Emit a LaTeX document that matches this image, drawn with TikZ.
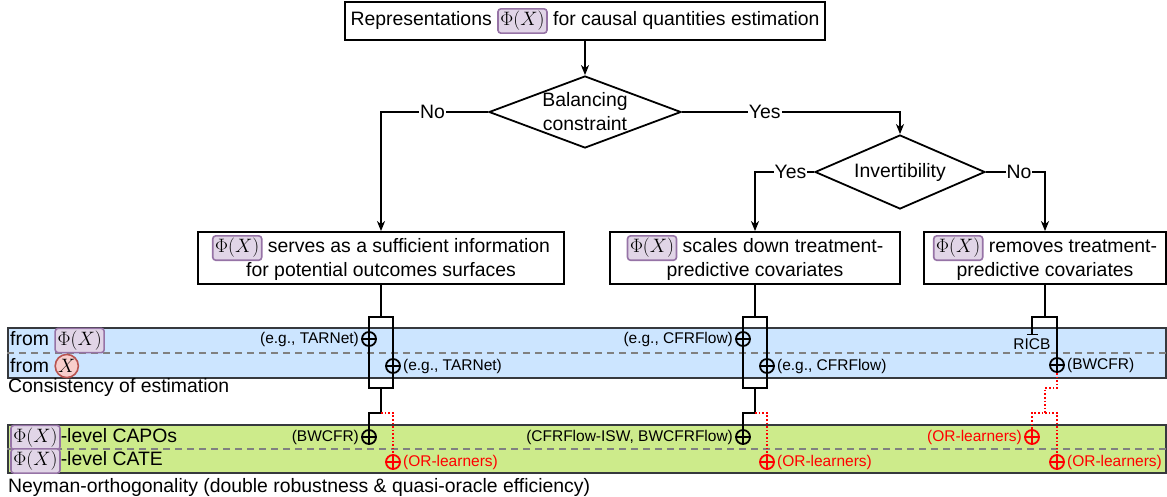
\RequirePackage{fix-cm}
\documentclass[tikz,border=0pt]{standalone}
\usepackage[no-math]{fontspec}
\setmainfont{Liberation Sans}
\usepackage{xcolor}
\usepackage{amsmath}
\usetikzlibrary{shapes.geometric,arrows.meta}

\definecolor{tagfill}{HTML}{E1D5E7}
\definecolor{tagdraw}{HTML}{9673A6}
\definecolor{xfill}{HTML}{F8CECC}
\definecolor{xdraw}{HTML}{B85450}
\definecolor{bandblue}{HTML}{CCE5FF}
\definecolor{bandgreen}{HTML}{CDEB8B}
\definecolor{bandedge}{HTML}{36393D}
\definecolor{sepgray}{HTML}{808080}

\tikzset{
  big/.style={font=\fontsize{19.4}{24}\selectfont},
  small/.style={font=\fontsize{15.5}{18}\selectfont},
  phitag/.style={draw=tagdraw,fill=tagfill,rounded corners=3pt,line width=1.6pt,inner sep=2.5pt},
  xtag/.style={circle,draw=xdraw,fill=xfill,line width=1.6pt,inner sep=0.5pt,minimum size=23pt},
  stepbox/.style={big,draw,line width=1.8pt,align=center,inner sep=0pt},
  decision/.style={big,diamond,draw,line width=1.8pt,align=center,inner sep=0pt},
  band/.style={draw=bandedge,line width=1.8pt,inner sep=0pt,minimum width=1158pt},
  splitline/.style={sepgray,dash pattern=on 7pt off 5pt,line width=1.5pt},
  arr/.style={line width=1.6pt,-{Stealth[length=10pt,width=8pt,inset=3pt]}},
  wire/.style={line width=1.6pt},
  orl/.style={red,dotted,line width=1.6pt},
  yesno/.style={big,fill=white,inner sep=1pt},
  bracket/.style={draw,line width=1.6pt,minimum width=24pt,minimum height=71pt,inner sep=0pt},
  oplus/.style={circle,draw=#1,line width=1.8pt,minimum size=14pt,inner sep=0pt,
    path picture={\draw[#1,line width=1.8pt] (path picture bounding box.north) -- (path picture bounding box.south) (path picture bounding box.west) -- (path picture bounding box.east);}},
  oplus/.default=black,
}

\newsavebox{\phibox}
\newsavebox{\xbox}

\begin{document}
\begin{tikzpicture}[x=1pt,y=-1pt]
\begin{pgfinterruptboundingbox}
\global\setbox\phibox=\hbox{\fontsize{19.4}{24}\selectfont\tikz[baseline=(phi.base),x=1pt,y=1pt]\node[phitag] (phi) {$\Phi(X)$};}
\global\setbox\xbox=\hbox{\fontsize{19.4}{24}\selectfont\tikz[baseline=(xx.base),x=1pt,y=1pt]\node[xtag] (xx) {$X$};}
\end{pgfinterruptboundingbox}
\useasboundingbox (0,0) rectangle (1167,496);
% Drawing steps
\node[stepbox,minimum width=480pt,minimum height=38pt] (top) at (585,21) {Representations \usebox{\phibox} for causal quantities estimation};
\node[decision,aspect=2.67,minimum width=192pt,minimum height=72pt] (bal) at (585,112) {Balancing\\constraint};
\node[decision,aspect=2.3,minimum width=170pt,minimum height=74pt] (inv) at (900,172) {Invertibility};
\node[stepbox,minimum width=366pt,minimum height=52pt] (suff) at (381,258) {\usebox{\phibox} serves as a sufficient information\\for potential outcomes surfaces};
\node[stepbox,minimum width=290pt,minimum height=52pt] (scal) at (755,258) {\usebox{\phibox} scales down treatment-\\predictive covariates};
\node[stepbox,minimum width=242pt,minimum height=52pt] (remv) at (1045,258) {\usebox{\phibox} removes treatment-\\predictive covariates};
% Done with steps; drawing decisions
\draw[arr] (top) -- (bal);
\draw[arr] (bal.west) -| node[yesno,pos=0.26] (no1) {No} (suff.north);
\draw[arr] (bal.east) -| node[yesno,pos=0.19] (yes1) {Yes} (inv.north);
\draw[arr] (inv.west) -| node[yesno,pos=0.2] (yes2) {Yes} (scal.north);
\draw[arr] (inv.east) -| node[yesno,pos=0.28] (no2) {No} (remv.north);
% Drawing bands
\node[band,fill=bandblue,minimum height=50pt] (cons) at (587,353) {};
\draw[splitline] (cons.west) -- (cons.east);
\node[big,anchor=west,inner sep=1pt] (fphi) at (9,340.5) {from \usebox{\phibox}};
\node[big,anchor=west,inner sep=1pt] (fx) at (9,366) {from \usebox{\xbox}};
\node[big,anchor=west,inner sep=1pt] (consl) at (7,387) {Consistency of estimation};
\node[band,fill=bandgreen,minimum height=48pt] (neym) at (587,449) {};
\draw[splitline] (neym.west) -- (neym.east);
\node[big,anchor=west,inner sep=1pt] (capo) at (9,437.5) {\usebox{\phibox}-level CAPOs};
\node[big,anchor=west,inner sep=1pt] (cate) at (9,461) {\usebox{\phibox}-level CATE};
\node[big,anchor=west,inner sep=1pt] (neyml) at (7,487) {Neyman-orthogonality (double robustness \& quasi-oracle efficiency)};
% Line 1: sufficient information
\node[bracket] (lbr) at (381,352.5) {};
\node[oplus] (la) at (369,339) {};
\node[oplus] (lb) at (393,366) {};
\node[oplus] (lc) at (369,437) {};
\node[oplus=red] (ld) at (393,462) {};
\coordinate (lsp) at (381,413);
\draw[wire] (suff.south) -- (lbr.north);
\draw[wire] (lbr.south) -- (lsp) -| (lc.north);
\draw[orl] (lsp) -| (ld.north);
\node[small,anchor=east,inner sep=2pt] (lal) at (la.west) {(e.g., TARNet)};
\node[small,anchor=west,inner sep=2pt] (lbl) at (lb.east) {(e.g., TARNet)};
\node[small,anchor=east,inner sep=2pt] (lcl) at (lc.west) {(BWCFR)};
\node[small,anchor=west,inner sep=2pt,red] (ldl) at (ld.east) {(OR-learners)};
% Line 2: scales down
\node[bracket] (mbr) at (755,352.5) {};
\node[oplus] (ma) at (743,339) {};
\node[oplus] (mb) at (767,366) {};
\node[oplus] (mc) at (743,437) {};
\node[oplus=red] (md) at (767,462) {};
\coordinate (msp) at (755,413);
\draw[wire] (scal.south) -- (mbr.north);
\draw[wire] (mbr.south) -- (msp) -| (mc.north);
\draw[orl] (msp) -| (md.north);
\node[small,anchor=east,inner sep=2pt] (mal) at (ma.west) {(e.g., CFRFlow)};
\node[small,anchor=west,inner sep=2pt] (mbl) at (mb.east) {(e.g., CFRFlow)};
\node[small,anchor=east,inner sep=2pt] (mcl) at (mc.west) {(CFRFlow-ISW, BWCFRFlow)};
\node[small,anchor=west,inner sep=2pt,red] (mdl) at (md.east) {(OR-learners)};
% Line 3: removes
\coordinate (rtop) at (1045,317);
\node[small,inner sep=3pt] (ricb) at (1032,344) {RICB};
\node[oplus] (rb) at (1057,365) {};
\node[oplus=red] (rc) at (1032,437) {};
\node[oplus=red] (rd) at (1057,462) {};
\coordinate (rk) at (1045,388);
\coordinate (rsp) at (1045,413);
\draw[wire] (remv.south) -- (rtop);
\draw[wire,{Bar[width=11pt]}-] (ricb.north) |- (rtop) -| (rb.north);
\draw[orl] (rb.south) |- (rk) -- (rsp) -| (rc.north);
\draw[orl] (rsp) -| (rd.north);
\node[small,anchor=west,inner sep=2pt] (rbl) at (rb.east) {(BWCFR)};
\node[small,anchor=east,inner sep=2pt,red] (rcl) at (rc.west) {(OR-learners)};
\node[small,anchor=west,inner sep=2pt,red] (rdl) at (rd.east) {(OR-learners)};
% Done with columns
\end{tikzpicture}
\end{document}
